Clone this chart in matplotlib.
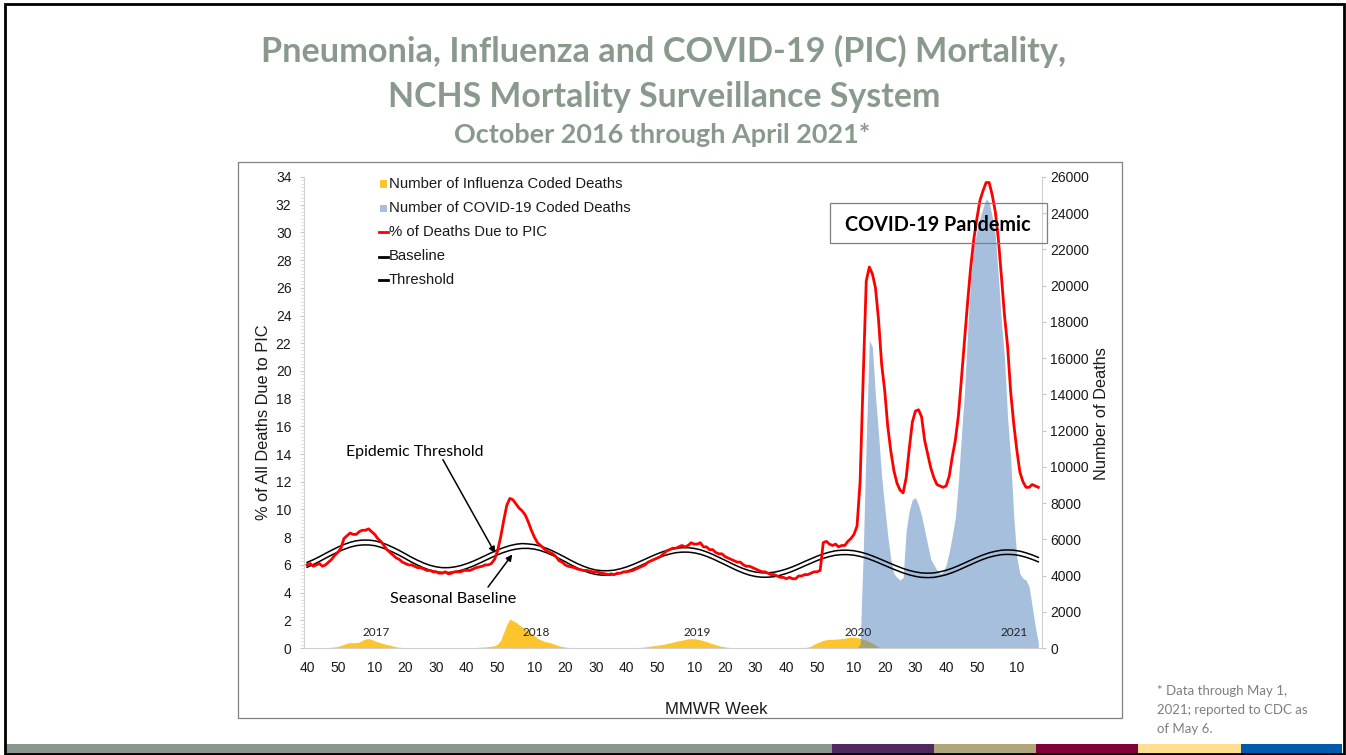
import numpy as np
import matplotlib
matplotlib.use("Agg")
import matplotlib.pyplot as plt
from matplotlib.patches import Rectangle
from matplotlib.lines import Line2D
from matplotlib.ticker import MultipleLocator

# ---------------- data ----------------
# weekly % of all deaths due to PIC, MMWR week 40/2016 (index 0) .. week 17/2021
pic_pct = [
    6.0, 6.1, 5.9, 6.0, 6.1, 5.9, 6.0, 6.2, 6.4, 6.7,
    6.9, 7.2, 7.9, 8.1, 8.3, 8.2, 8.2, 8.4, 8.5, 8.5,
    8.6, 8.4, 8.2, 7.9, 7.7, 7.4, 7.1, 6.9, 6.7, 6.5,
    6.4, 6.2, 6.1, 6.0, 6.0, 5.9, 5.8, 5.8, 5.7, 5.6,
    5.6, 5.5, 5.5, 5.4, 5.4, 5.5, 5.35, 5.4, 5.5, 5.5,
    5.5, 5.6, 5.6, 5.6, 5.7, 5.8, 5.85, 5.9, 6.0, 6.0,
    6.1, 6.4, 7.0, 8.0, 9.2, 10.3, 10.8, 10.7, 10.4, 10.1,
    9.9, 9.6, 9.1, 8.5, 8.0, 7.6, 7.4, 7.2, 7.0, 6.9,
    6.8, 6.6, 6.3, 6.2, 6.0, 5.9, 5.85, 5.8, 5.7, 5.65,
    5.6, 5.6, 5.55, 5.5, 5.5, 5.45, 5.4, 5.35, 5.3, 5.35,
    5.3, 5.4, 5.4, 5.5, 5.5, 5.55, 5.6, 5.7, 5.8, 5.9,
    6.0, 6.2, 6.3, 6.4, 6.5, 6.6, 6.8, 7.0, 7.1, 7.2,
    7.2, 7.3, 7.4, 7.3, 7.4, 7.6, 7.5, 7.5, 7.6, 7.3,
    7.3, 7.1, 7.1, 6.9, 6.8, 6.8, 6.6, 6.5, 6.4, 6.3,
    6.2, 6.2, 6.0, 5.9, 5.9, 5.8, 5.7, 5.6, 5.5, 5.5,
    5.4, 5.3, 5.3, 5.2, 5.1, 5.1, 5.0, 5.1, 5.0, 5.0,
    5.2, 5.2, 5.3, 5.3, 5.4, 5.5, 5.5, 5.6, 7.6, 7.7,
    7.5, 7.4, 7.5, 7.3, 7.4, 7.4, 7.7, 7.9, 8.2, 8.8,
    12.0, 19.5, 26.5, 27.5, 27.0, 26.0, 23.7, 20.5, 18.6, 16.0,
    14.2, 12.8, 11.9, 11.4, 11.2, 12.3, 14.4, 16.3, 17.1, 17.2,
    16.7, 15.0, 14.0, 13.0, 12.3, 11.8, 11.7, 11.6, 11.7, 12.4,
    13.8, 15.0, 16.8, 19.5, 22.3, 25.0, 27.5, 29.5, 31.0, 32.3,
    33.0, 33.6, 33.6, 32.7, 31.5, 29.5, 26.8, 24.0, 21.8, 18.5,
    16.2, 14.3, 12.7, 12.0, 11.6, 11.6, 11.8, 11.7, 11.6,
]

# weekly number of influenza coded deaths
flu_deaths = [
    0, 0, 0, 10, 10, 20, 20, 30, 40, 60,
    90, 140, 200, 270, 300, 290, 300, 330, 420, 500,
    520, 470, 400, 330, 280, 240, 190, 160, 110, 70,
    40, 30, 20, 10, 10, 0, 0, 0, 0, 0,
    0, 0, 0, 0, 0, 0, 0, 0, 0, 10,
    10, 10, 10, 20, 20, 30, 40, 50, 60, 80,
    100, 130, 220, 420, 850, 1300, 1600, 1500, 1420, 1280,
    1170, 1050, 930, 800, 680, 550, 450, 380, 330, 300,
    240, 180, 120, 80, 50, 30, 20, 10, 10, 0,
    0, 0, 0, 0, 0, 0, 0, 0, 0, 0,
    0, 0, 0, 0, 0, 10, 20, 20, 30, 40,
    60, 90, 110, 130, 160, 180, 200, 250, 280, 320,
    360, 400, 430, 470, 500, 510, 510, 490, 450, 400,
    350, 290, 230, 180, 130, 90, 60, 40, 20, 10,
    0, 0, 0, 0, 0, 0, 0, 0, 0, 0,
    0, 0, 0, 0, 0, 0, 0, 0, 0, 10,
    10, 20, 30, 50, 100, 200, 290, 350, 420, 460,
    470, 480, 490, 500, 520, 540, 570, 600, 600, 570,
    530, 480, 430, 360, 270, 150, 60, 20, 10, 0,
    0, 0, 0, 0, 0, 0, 0, 0, 0, 0,
    0, 0, 0, 0, 0, 0, 0, 0, 0, 0,
    0, 0, 0, 0, 0, 0, 0, 0, 0, 0,
    0, 0, 0, 0, 0, 0, 0, 0, 0, 0,
    0, 0, 0, 0, 0, 0, 0, 0, 0,
]

# weekly number of COVID-19 coded deaths (none before index 180)
covid_deaths = [0] * 180 + [
    200, 5200, 11500, 17000, 16600, 13900, 11800, 9500, 7800, 6200,
    4900, 4100, 3900, 3750, 3900, 6500, 7600, 8200, 8300, 7900,
    7300, 6500, 5700, 4900, 4600, 4300, 4100, 4200, 4600, 5300,
    6200, 7200, 9200, 11800, 14200, 17500, 20500, 22200, 23000, 23700,
    24300, 24800, 24600, 23800, 22800, 20500, 18000, 16000, 12700, 10500,
    7300, 5000, 4100, 3850, 3750, 3400, 2300, 1200, 300,
]

# seasonal baseline and epidemic threshold, read every second week
curve_weeks = list(range(0, 240, 2))
baseline = [
    5.83, 6.02, 6.24, 6.48, 6.71, 6.93, 7.12, 7.28, 7.39, 7.44,
    7.44, 7.39, 7.27, 7.11, 6.91, 6.69, 6.45, 6.20, 5.98, 5.78, 5.62, 5.51, 5.45,
    5.45, 5.50, 5.60, 5.74, 5.91, 6.11, 6.32, 6.53, 6.73, 6.90, 7.04, 7.14, 7.19,
    7.19, 7.14, 7.03, 6.87, 6.68, 6.46, 6.23, 5.99, 5.77, 5.58, 5.42, 5.31, 5.26,
    5.26, 5.30, 5.40, 5.53, 5.70, 5.89, 6.09, 6.29, 6.48, 6.65, 6.78, 6.88, 6.92,
    6.92, 6.87, 6.77, 6.62, 6.44, 6.23, 6.02, 5.80, 5.59, 5.41, 5.26, 5.16, 5.11,
    5.11, 5.15, 5.25, 5.38, 5.54, 5.73, 5.93, 6.12, 6.31, 6.47, 6.60, 6.70, 6.74,
    6.74, 6.70, 6.61, 6.49, 6.33, 6.15, 5.96, 5.77, 5.59, 5.42, 5.28, 5.17, 5.10,
    5.08, 5.10, 5.18, 5.29, 5.44, 5.62, 5.82, 6.02, 6.22, 6.40, 6.55, 6.66, 6.74, 6.76,
    6.74, 6.67, 6.55, 6.40, 6.22,
]
threshold = [
    6.18, 6.37, 6.59, 6.83, 7.06, 7.28, 7.47, 7.63, 7.74, 7.79,
    7.79, 7.74, 7.62, 7.46, 7.26, 7.04, 6.80, 6.55, 6.33, 6.13, 5.97, 5.86, 5.80,
    5.80, 5.85, 5.95, 6.09, 6.26, 6.46, 6.67, 6.88, 7.08, 7.25, 7.39, 7.49, 7.54,
    7.51, 7.46, 7.35, 7.19, 7.00, 6.78, 6.55, 6.31, 6.09, 5.90, 5.74, 5.63, 5.58,
    5.58, 5.62, 5.72, 5.85, 6.02, 6.21, 6.41, 6.61, 6.80, 6.97, 7.10, 7.20, 7.24,
    7.24, 7.19, 7.09, 6.94, 6.76, 6.55, 6.34, 6.12, 5.91, 5.73, 5.58, 5.48, 5.43,
    5.43, 5.47, 5.57, 5.70, 5.86, 6.05, 6.25, 6.44, 6.63, 6.79, 6.92, 7.02, 7.06,
    7.06, 7.02, 6.93, 6.81, 6.65, 6.47, 6.28, 6.09, 5.91, 5.74, 5.60, 5.49, 5.42,
    5.40, 5.42, 5.50, 5.61, 5.76, 5.94, 6.14, 6.34, 6.54, 6.72, 6.87, 6.98, 7.06, 7.08,
    7.06, 6.99, 6.87, 6.72, 6.54,
]

# MMWR week tick labels (week index of each labelled week)
xtick_pos = [0, 10, 22, 32, 42, 52, 62, 74, 84, 94, 104, 114, 126, 136, 146,
             156, 166, 178, 188, 198, 208, 218, 231]
xtick_labels = ["40", "50", "10", "20", "30", "40", "50", "10", "20", "30", "40",
                "50", "10", "20", "30", "40", "50", "10", "20", "30", "40", "50", "10"]
year_labels = ["2017", "2018", "2019", "2020", "2021"]
year_label_pos = [22.5, 74.5, 127, 179.5, 230]

legend_labels = ["Number of Influenza Coded Deaths", "Number of COVID-19 Coded Deaths",
                 "% of Deaths Due to PIC", "Baseline", "Threshold"]

footnote_lines = ["* Data through May 1,", "2021; reported to CDC as", "of May 6."]

# ---------------- style ----------------
W, H = 1346, 755
FLU = "#fcc52e"
COVID = "#4f81bd"
RED = "#ff0000"
TITLE_C = "#899a8c"
ARIAL = "Liberation Sans"
CALIBRI = "Lato"


def fx(x):
    return x / W


def fy(y):
    return 1 - y / H


fig = plt.figure(figsize=(W / 100, H / 100), dpi=100)
fig.patch.set_facecolor("white")
renderer = fig.canvas.get_renderer()


def fit(t, target, vertical=False):
    bb = t.get_window_extent(renderer)
    cur = bb.height if vertical else bb.width
    t.set_fontsize(t.get_fontsize() * target / cur)
    return t


# slide frame and colour strip
strip = [(5, 832, "#8a988c"), (832, 934, "#502a5e"), (934, 1036, "#afa77a"),
         (1036, 1138, "#80003a"), (1138, 1241, "#ffdf8e"), (1241, 1342, "#005aab")]
for x0, x1, c in strip:
    fig.patches.append(Rectangle((fx(x0), fy(753.5)), (x1 - x0) / W, 9.5 / H,
                                 transform=fig.transFigure, color=c, lw=0, zorder=1))
fig.patches.append(Rectangle((fx(4.5), fy(754)), (1343.5 - 4.5) / W, (754 - 4) / H,
                             transform=fig.transFigure, fill=False, ec="black",
                             lw=2.0, zorder=5))
# chart frame
fig.patches.append(Rectangle((fx(238), fy(718)), (1122 - 238) / W, (718 - 162) / H,
                             transform=fig.transFigure, fill=False, ec="#808080",
                             lw=0.9, zorder=1))

# titles
t1 = fig.text(fx(664), fy(62), "Pneumonia, Influenza and COVID-19 (PIC) Mortality,",
              ha="center", va="baseline", fontsize=22, fontweight="bold",
              color=TITLE_C, family=CALIBRI)
fit(t1, 802)
t2 = fig.text(fx(664), fy(107), "NCHS Mortality Surveillance System",
              ha="center", va="baseline", fontsize=22, fontweight="bold",
              color=TITLE_C, family=CALIBRI)
fit(t2, 552)
t3 = fig.text(fx(662), fy(143), "October 2016 through April 2021*",
              ha="center", va="baseline", fontsize=17, fontweight="bold",
              color=TITLE_C, family=CALIBRI)
fit(t3, 417)

# footnote
fn_texts = []
for line, yc in zip(footnote_lines, [691, 710, 729]):
    fn_texts.append(fig.text(fx(1157), fy(yc), line, ha="left", va="center",
                             fontsize=10, color="#7f7f7f", family=CALIBRI))
fit(fn_texts[1], 151)
for t in fn_texts:
    t.set_fontsize(fn_texts[1].get_fontsize())

# ---------------- axes ----------------
ax1 = fig.add_axes([fx(304), fy(648), (1042 - 304) / W, (648 - 177) / H])
ax2 = ax1.twinx()
ax1.set_zorder(ax2.get_zorder() + 1)
ax1.patch.set_visible(False)
ax2.patch.set_visible(False)

weeks = np.arange(len(pic_pct))
ax2.fill_between(weeks, flu_deaths, color=FLU, lw=0, zorder=1)
ax2.fill_between(weeks, covid_deaths, color=COVID, alpha=0.5, lw=0, zorder=2)

ax1.plot(curve_weeks, threshold, color="black", lw=1.1, zorder=3)
ax1.plot(curve_weeks, baseline, color="black", lw=1.1, zorder=3)
ax1.plot(weeks, pic_pct, color=RED, lw=2.0, zorder=4, solid_joinstyle="round")

ax1.set_xlim(-1, 239.2)
ax1.set_ylim(0, 34)
ax2.set_ylim(0, 26000)
ax1.set_yticks(range(0, 35, 2))
ax2.set_yticks(range(0, 26001, 2000))
ax1.yaxis.set_minor_locator(MultipleLocator(0.25))
ax1.set_xticks(xtick_pos)
ax1.set_xticklabels(xtick_labels)

for a in (ax1, ax2):
    for s in a.spines.values():
        s.set_visible(False)
ax1.spines["left"].set_visible(True)
ax1.spines["left"].set_color("#d0d0d0")
ax1.spines["bottom"].set_visible(True)
ax1.spines["bottom"].set_color("#d0d0d0")
ax2.spines["right"].set_visible(True)
ax2.spines["right"].set_color("#d0d0d0")

ax1.tick_params(axis="y", which="major", length=3, color="#c8c8c8", pad=6,
                labelsize=10, labelcolor="#1a1a1a")
ax1.tick_params(axis="y", which="minor", length=2, color="#d8d8d8", width=0.6)
ax1.tick_params(axis="x", length=0, pad=9, labelsize=10, labelcolor="#1a1a1a")
ax2.tick_params(axis="y", length=3, color="#c8c8c8", pad=3, labelsize=10,
                labelcolor="#1a1a1a")
for lab in ax1.get_xticklabels() + ax1.get_yticklabels() + ax2.get_yticklabels():
    lab.set_family(ARIAL)

# axis labels
yl = fig.text(fx(264), fy(422), "% of All Deaths Due to PIC", rotation=90,
              ha="center", va="center", fontsize=11, family=ARIAL, color="#1a1a1a")
fit(yl, 195, vertical=True)
yr = fig.text(fx(1101), fy(414), "Number of Deaths", rotation=90,
              ha="center", va="center", fontsize=11, family=ARIAL, color="#1a1a1a")
fit(yr, 133, vertical=True)
xl = fig.text(fx(716), fy(709), "MMWR Week", ha="center", va="center",
              fontsize=11, family=ARIAL, color="#1a1a1a")
fit(xl, 102)

# year labels
for lab, p in zip(year_labels, year_label_pos):
    ax1.text(p, 1.1, lab, ha="center", va="center", fontsize=8.5,
             family=CALIBRI, color="#222222", zorder=6)

# annotations
ax1.annotate("", xy=(61.2, 6.85), xytext=(44.2, 13.6),
             arrowprops=dict(arrowstyle="-|>", color="black", lw=1.1,
                             mutation_scale=9, shrinkA=0, shrinkB=0), zorder=6)
ax1.annotate("", xy=(66.8, 6.75), xytext=(58.9, 4.4),
             arrowprops=dict(arrowstyle="-|>", color="black", lw=1.1,
                             mutation_scale=9, shrinkA=0, shrinkB=0), zorder=6)
et = fig.text(fx(415), fy(452), "Epidemic Threshold", ha="center", va="center",
              fontsize=11, family=CALIBRI, color="black")
fit(et, 138)
sb = fig.text(fx(453), fy(599), "Seasonal Baseline", ha="center", va="center",
              fontsize=11, family=CALIBRI, color="black")
fit(sb, 126)

# COVID-19 Pandemic box
fig.patches.append(Rectangle((fx(830), fy(243)), (1047 - 830) / W, (243 - 203) / H,
                             transform=fig.transFigure, fill=False, ec="#7f7f7f",
                             lw=0.9, zorder=7))
cp = fig.text(fx(938), fy(225), "COVID-19 Pandemic", ha="center", va="center",
              fontsize=12, fontweight="bold", family=CALIBRI, color="black", zorder=8)
fit(cp, 184)

# legend (manual, matching the original layout)
rows_y = [184, 208.5, 232, 256.5, 280]
for i, (lab, yy) in enumerate(zip(legend_labels, rows_y)):
    if i == 0:
        fig.patches.append(Rectangle((fx(380), fy(yy + 3.5)), 7 / W, 7 / H,
                                     transform=fig.transFigure, color=FLU, lw=0))
    elif i == 1:
        fig.patches.append(Rectangle((fx(380), fy(yy + 3.5)), 7 / W, 7 / H,
                                     transform=fig.transFigure, color="#a5c0de", lw=0))
    else:
        col = RED if i == 2 else "black"
        fig.lines.append(Line2D([fx(379), fx(388)], [fy(yy), fy(yy)],
                                transform=fig.transFigure, color=col, lw=2.0))
    t = fig.text(fx(389), fy(yy), lab, ha="left", va="center", fontsize=10.5,
                 family=ARIAL, color="#1a1a1a")
    if i == 0:
        fit(t, 235)
        legend_fs = t.get_fontsize()
    else:
        t.set_fontsize(legend_fs)

fig.savefig("out.png", dpi=100)
